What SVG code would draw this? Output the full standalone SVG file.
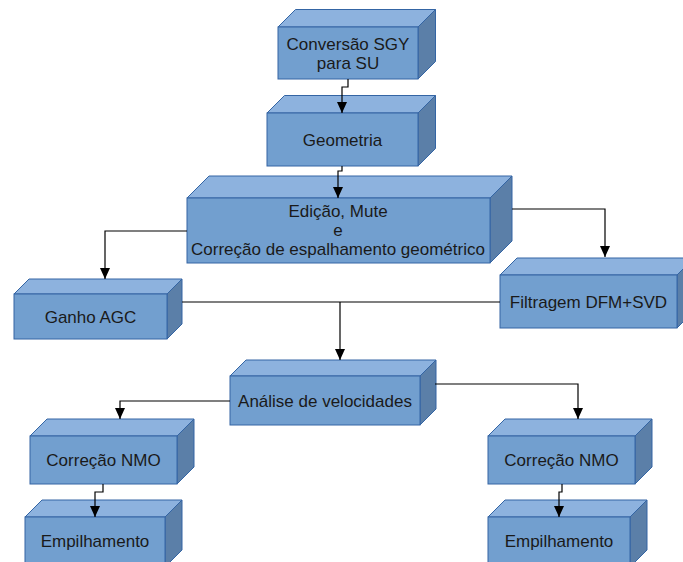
<svg xmlns="http://www.w3.org/2000/svg" width="683" height="562" viewBox="0 0 683 562">
<style>
.f{fill:#729fcf;stroke:#3465a4;stroke-width:1}
.t{fill:#8db2de;stroke:#3465a4;stroke-width:1}
.r{fill:#5b7fa8;stroke:#3465a4;stroke-width:1}
.l{fill:#1a1a1a;font-family:"Liberation Sans",Arial,sans-serif;font-size:17px;text-anchor:middle}
.c{fill:none;stroke:#000;stroke-width:1.2}
</style>
<defs>
<marker id="d" markerUnits="userSpaceOnUse" markerWidth="12" markerHeight="10" refX="11" refY="5" orient="auto" viewBox="0 0 12 10">
<path d="M0,0 L11,5 L0,10 Z" fill="#000"/>
</marker>
</defs>
<rect width="683" height="562" fill="#fff"/>
<g id="conversao">
<polygon class="t" points="278,27 295.5,9.5 435.5,9.5 418,27"/>
<polygon class="r" points="418,27 435.5,9.5 435.5,61.5 418,79"/>
<rect class="f" x="278" y="27" width="140" height="52"/>
<text class="l" x="348" y="50">Conversão SGY</text>
<text class="l" x="348" y="69">para SU</text>
</g>
<g id="geometria">
<polygon class="t" points="267,113 284.5,95.5 435.5,95.5 418,113"/>
<polygon class="r" points="418,113 435.5,95.5 435.5,148.5 418,166"/>
<rect class="f" x="267" y="113" width="151" height="53"/>
<text class="l" x="342.5" y="146">Geometria</text>
</g>
<g id="edicao">
<polygon class="t" points="187,198 209,176 512,176 490,198"/>
<polygon class="r" points="490,198 512,176 512,241 490,263"/>
<rect class="f" x="187" y="198" width="303" height="65"/>
<text class="l" x="338" y="217">Edição, Mute</text>
<text class="l" x="338" y="236">e</text>
<text class="l" x="338" y="255">Correção de espalhamento geométrico</text>
</g>
<g id="ganho">
<polygon class="t" points="14,294 29,279 182,279 167,294"/>
<polygon class="r" points="167,294 182,279 182,324 167,339"/>
<rect class="f" x="14" y="294" width="153" height="45"/>
<text class="l" x="90.5" y="323">Ganho AGC</text>
</g>
<g id="filtragem">
<polygon class="t" points="500,275 517,258 694,258 677,275"/>
<polygon class="r" points="677,275 694,258 694,311 677,328"/>
<rect class="f" x="500" y="275" width="177" height="53"/>
<text class="l" x="588.5" y="308">Filtragem DFM+SVD</text>
</g>
<g id="analise">
<polygon class="t" points="230,376 246,360 436,360 420,376"/>
<polygon class="r" points="420,376 436,360 436,409 420,425"/>
<rect class="f" x="230" y="376" width="190" height="49"/>
<text class="l" x="325" y="407">Análise de velocidades</text>
</g>
<g id="nmo-esq">
<polygon class="t" points="30,436 47,419 194,419 177,436"/>
<polygon class="r" points="177,436 194,419 194,467 177,484"/>
<rect class="f" x="30" y="436" width="147" height="48"/>
<text class="l" x="103.5" y="466">Correção NMO</text>
</g>
<g id="nmo-dir">
<polygon class="t" points="488,436 505,419 652,419 635,436"/>
<polygon class="r" points="635,436 652,419 652,467 635,484"/>
<rect class="f" x="488" y="436" width="147" height="48"/>
<text class="l" x="561.5" y="466">Correção NMO</text>
</g>
<g id="emp-esq">
<polygon class="t" points="25,517 42,500 182,500 165,517"/>
<polygon class="r" points="165,517 182,500 182,550 165,567"/>
<rect class="f" x="25" y="517" width="140" height="50"/>
<text class="l" x="95" y="547">Empilhamento</text>
</g>
<g id="emp-dir">
<polygon class="t" points="488,517 505,500 647,500 630,517"/>
<polygon class="r" points="630,517 647,500 647,550 630,567"/>
<rect class="f" x="488" y="517" width="142" height="50"/>
<text class="l" x="559" y="547">Empilhamento</text>
</g>
<g id="connectors">
<path class="c" d="M348,79 V87 H342 V113" marker-end="url(#d)"/>
<path class="c" d="M342,166 V171 H338 V198" marker-end="url(#d)"/>
<path class="c" d="M187,231 H105 V279" marker-end="url(#d)"/>
<path class="c" d="M512,209 H605 V257" marker-end="url(#d)"/>
<path class="c" d="M182,302 H500"/>
<path class="c" d="M340,302 V360" marker-end="url(#d)"/>
<path class="c" d="M230,401 H120 V419" marker-end="url(#d)"/>
<path class="c" d="M435,384 H578 V419" marker-end="url(#d)"/>
<path class="c" d="M103,484 V492 H95 V517" marker-end="url(#d)"/>
<path class="c" d="M562,484 V492 H559 V517" marker-end="url(#d)"/>
</g>
</svg>
